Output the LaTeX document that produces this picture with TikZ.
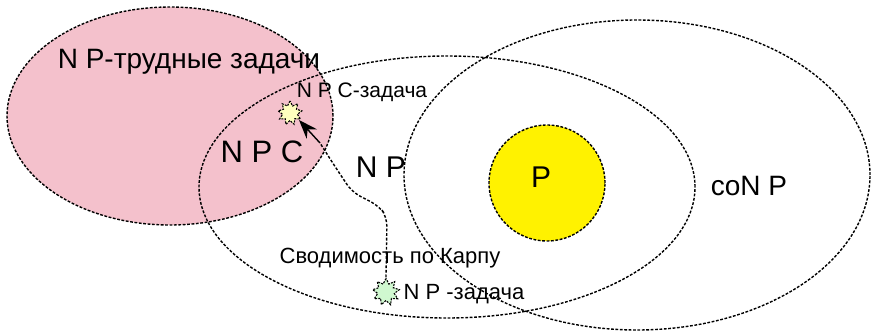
\documentclass[tikz,border=0pt]{standalone}
\usepackage{fontspec}
\setmainfont{Liberation Sans}
\usetikzlibrary{shapes.geometric,arrows.meta}
\begin{document}
\begin{tikzpicture}[x=1pt,y=1pt,
  setline/.style={draw=black,line width=1.4pt,dash pattern=on 2.8pt off 1.6pt},
  starnode/.style={star,star points=9,star point ratio=1.6,minimum size=24pt,inner sep=0pt,
    draw=black,line width=1.1pt,dash pattern=on 2pt off 1.2pt},
  lbl/.style={inner sep=0pt,text=black}]
\useasboundingbox (0,0) rectangle (878,335);
% sets
\node[setline,fill={rgb,255:red,244;green,193;blue,204},ellipse,minimum width=326pt,minimum height=218pt,inner sep=0pt] (hard) at (170,219) {};
\node[setline,ellipse,minimum width=496pt,minimum height=262pt,inner sep=0pt] (np) at (447,148) {};
\node[setline,ellipse,minimum width=466pt,minimum height=310pt,inner sep=0pt] (conp) at (637,160) {};
\node[setline,fill=yellow,circle,minimum size=116pt,inner sep=0pt] (p) at (547,152) {};
% problems
\node[starnode,fill={rgb,255:red,255;green,255;blue,190}] (npc) at (290,222) {};
\node[starnode,fill={rgb,255:red,208;green,248;blue,208},minimum size=27pt] (npt) at (386,43) {};
\coordinate (tip) at (299,215);
\coordinate (bend) at (320,192);
% Karp reduction: dashed path ending in a solid dart
\draw[line width=1.4pt,dash pattern=on 2.8pt off 1.8pt,rounded corners=9pt]
  (npt.north) -- (387,118) -- (379,129) -- (352,143) -- (334,170) -- (bend);
\draw[line width=1.4pt,-{Stealth[length=19pt,width=14pt]}]
  (bend) -- (tip);
% labels
\node[lbl,font=\fontsize{28}{28}\selectfont] (thard) at (189,273) {N P-трудные задачи};
\node[lbl,font=\fontsize{21}{21}\selectfont] (tnpc) at (362,243) {N P C-задача};
\node[lbl,font=\fontsize{31}{31}\selectfont] (tnpcset) at (262,183) {N P C};
\node[lbl,font=\fontsize{30}{30}\selectfont] (tnp) at (381,168) {N P};
\node[lbl,font=\fontsize{30}{30}\selectfont] (tp) at (541,158) {P};
\node[lbl,font=\fontsize{28}{28}\selectfont] (tconp) at (749,149) {coN P};
\node[lbl,font=\fontsize{22}{22}\selectfont] (tkarp) at (390,77) {Сводимость по Карпу};
\node[lbl,font=\fontsize{22}{22}\selectfont] (tnpt) at (464,41) {N P -задача};
\end{tikzpicture}
\end{document}
